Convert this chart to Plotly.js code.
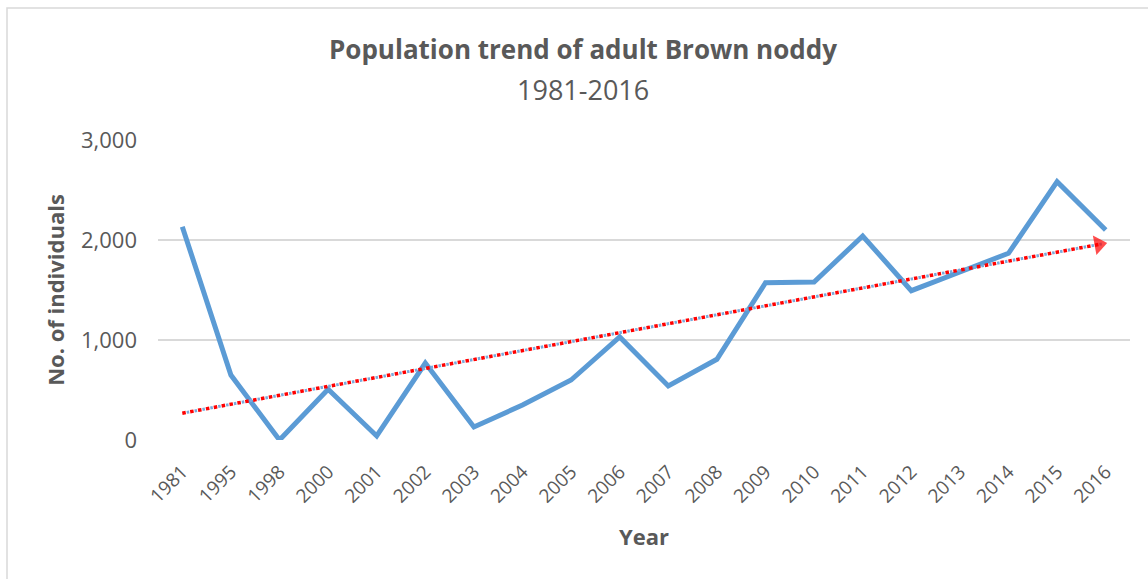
<!DOCTYPE html>
<html>
<head>
<meta charset="utf-8">
<script src="https://cdn.plot.ly/plotly-3.0.1.min.js"></script>
<style>
  html, body { margin: 0; padding: 0; background: #ffffff; }
  #chart { width: 1148px; height: 579px; }
</style>
</head>
<body>
<div id="chart"></div>
<script>
// Survey years (category axis) and adult counts
const years = ['1981', '1995', '1998', '2000', '2001', '2002', '2003', '2004', '2005', '2006',
               '2007', '2008', '2009', '2010', '2011', '2012', '2013', '2014', '2015', '2016'];
const adults = [2133, 650, 0, 507, 40, 770, 130, 350, 600, 1030,
                540, 807, 1573, 1580, 2040, 1493, 1680, 1867, 2583, 2100];

// Linear trend line end points
const trendYears = ['1981', '2016'];
const trendValues = [268, 1968];

// Y axis ticks
const yTickVals = [0, 1000, 2000, 3000];
const yTickText = ['0', '1,000', '2,000', '3,000'];

const textColor = '#595959';
const fontFamily = '"Open Sans", "Liberation Sans", sans-serif';

const traces = [
  {
    x: years, y: adults, type: 'scatter', mode: 'lines',
    line: { color: '#5B9BD5', width: 5 },
    hoverinfo: 'x+y', showlegend: false
  },
  {
    // pale companion dots between the red ones
    x: trendYears, y: trendValues, type: 'scatter', mode: 'lines',
    line: { color: '#7AAADB', width: 3, dash: '0px,4.5px,2.5px,1px' },
    hoverinfo: 'skip', showlegend: false
  },
  {
    x: trendYears, y: trendValues, type: 'scatter', mode: 'lines+markers',
    line: { color: '#FF0000', width: 3.5, dash: '3.5px,4.5px' },
    marker: {
      symbol: 'triangle-up', color: '#FF0000', size: [0, 17],
      angleref: 'previous', standoff: 7,
      line: { width: 0 }
    },
    hoverinfo: 'skip', showlegend: false
  }
];

const layout = {
  width: 1148, height: 579,
  margin: { l: 158, r: 18, t: 140, b: 139 },
  paper_bgcolor: '#ffffff', plot_bgcolor: '#ffffff',
  font: { family: fontFamily, color: textColor },
  title: {
    text: '<b>Population trend of adult Brown noddy</b>',
    font: { family: fontFamily, size: 26, color: textColor },
    x: 583 / 1148, xref: 'container', xanchor: 'center',
    y: 1 - 50 / 579, yref: 'container', yanchor: 'middle'
  },
  annotations: [
    {
      text: '1981-2016', showarrow: false,
      xref: 'paper', yref: 'paper', x: (583 - 158) / 972, y: (440 - 90) / 300,
      xanchor: 'center', yanchor: 'middle',
      font: { family: fontFamily, size: 27, color: textColor }
    }
  ],
  xaxis: {
    type: 'category', range: [-0.5, years.length - 0.5],
    tickangle: -45, showgrid: false, zeroline: false,
    showline: false, ticks: '',
    ticklabelstandoff: 16,
    tickfont: { family: fontFamily, size: 19, color: textColor },
    title: {
      text: '<b>Year</b>', standoff: 22,
      font: { family: fontFamily, size: 22, color: textColor }
    },
    fixedrange: true
  },
  yaxis: {
    range: [0, 3000], tickvals: yTickVals, ticktext: yTickText,
    showgrid: true, gridcolor: '#D9D9D9', gridwidth: 1.5,
    zeroline: false, showline: false, ticks: '',
    ticklabelstandoff: 20,
    tickfont: { family: fontFamily, size: 22, color: textColor },
    title: {
      text: '<b>No. of individuals</b>', standoff: 10,
      font: { family: fontFamily, size: 22, color: textColor }
    },
    fixedrange: true
  },
  shapes: [
    {
      // outer chart frame
      type: 'rect', xref: 'paper', yref: 'paper',
      x0: (7 - 158) / 972, x1: (1160 - 158) / 972,
      y0: (440 - 590) / 300, y1: (440 - 8) / 300,
      line: { color: '#D9D9D9', width: 1.5 }, fillcolor: 'rgba(0,0,0,0)',
      layer: 'below'
    }
  ],
  showlegend: false
};

Plotly.newPlot('chart', traces, layout, { displayModeBar: false, staticPlot: true });
</script>
</body>
</html>
